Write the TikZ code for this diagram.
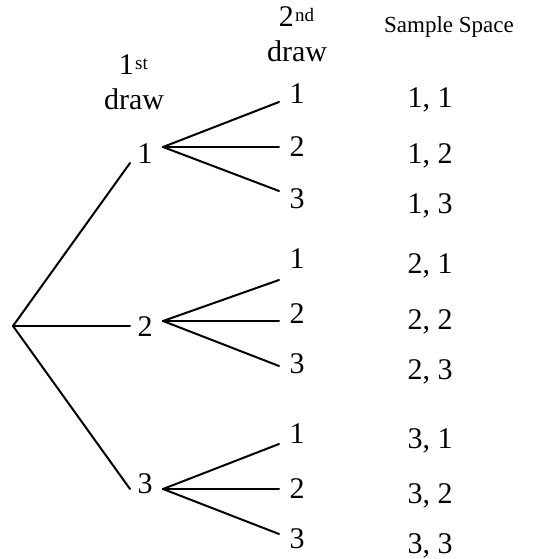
\documentclass[tikz,border=0pt]{standalone}
\usepackage{fontspec}
\setmainfont{Liberation Serif}
\begin{document}
\begin{tikzpicture}[x=1pt,y=-1pt,
  lbl/.style={font=\fontsize{30}{30}\selectfont, inner sep=0pt, anchor=base},
  sup/.style={font=\fontsize{19}{19}\selectfont, inner sep=0pt, anchor=base west},
  hdr/.style={font=\fontsize{23}{23}\selectfont, inner sep=0pt, anchor=base},
  branch/.style={line width=2pt, line cap=round}]
\useasboundingbox (0,0) rectangle (536,559);
% headers
\node[lbl, anchor=base east] (h1n) at (134,75) {1};
\node[sup] (h1s) at (135,70) {st};
\node[lbl] (h1d) at (134,110) {draw};
\node[lbl, anchor=base east] (h2n) at (294,27) {2};
\node[sup] (h2s) at (295,22) {nd};
\node[lbl] (h2d) at (297,62) {draw};
\node[hdr] (hs) at (449,33) {Sample Space};
% first level
\node[lbl] (a1) at (145,163) {1};
\node[lbl] (a2) at (145,336) {2};
\node[lbl] (a3) at (145,493) {3};
% second level
\node[lbl] (b11) at (297,103) {1};
\node[lbl] (b12) at (297,157) {2};
\node[lbl] (b13) at (297,208) {3};
\node[lbl] (b21) at (297,268) {1};
\node[lbl] (b22) at (297,323) {2};
\node[lbl] (b23) at (297,373) {3};
\node[lbl] (b31) at (297,443) {1};
\node[lbl] (b32) at (297,498) {2};
\node[lbl] (b33) at (297,548) {3};
% sample space
\node[lbl] (s11) at (430,108) {1, 1};
\node[lbl] (s12) at (430,163) {1, 2};
\node[lbl] (s13) at (430,213) {1, 3};
\node[lbl] (s21) at (430,273) {2, 1};
\node[lbl] (s22) at (430,329) {2, 2};
\node[lbl] (s23) at (430,379) {2, 3};
\node[lbl] (s31) at (430,448) {3, 1};
\node[lbl] (s32) at (430,503) {3, 2};
\node[lbl] (s33) at (430,553) {3, 3};
% connector end points
\coordinate (root) at (13,326);
\coordinate (a1in) at (130,163);
\coordinate (a2in) at (130,326);
\coordinate (a3in) at (130,489);
\coordinate (a1out) at (163,147);
\coordinate (a2out) at (163,321);
\coordinate (a3out) at (163,489);
\coordinate (b11in) at (279,102);
\coordinate (b12in) at (279,147);
\coordinate (b13in) at (279,191);
\coordinate (b21in) at (279,280);
\coordinate (b22in) at (279,321);
\coordinate (b23in) at (279,366);
\coordinate (b31in) at (279,444);
\coordinate (b32in) at (279,489);
\coordinate (b33in) at (279,534);
% connectors
\draw[branch] (a1in) -- (root) -- (a3in);
\draw[branch] (root) -- (a2in);
\draw[branch] (a1out) -- (b11in);
\draw[branch] (a1out) -- (b12in);
\draw[branch] (a1out) -- (b13in);
\draw[branch] (a2out) -- (b21in);
\draw[branch] (a2out) -- (b22in);
\draw[branch] (a2out) -- (b23in);
\draw[branch] (a3out) -- (b31in);
\draw[branch] (a3out) -- (b32in);
\draw[branch] (a3out) -- (b33in);
\end{tikzpicture}
\end{document}
